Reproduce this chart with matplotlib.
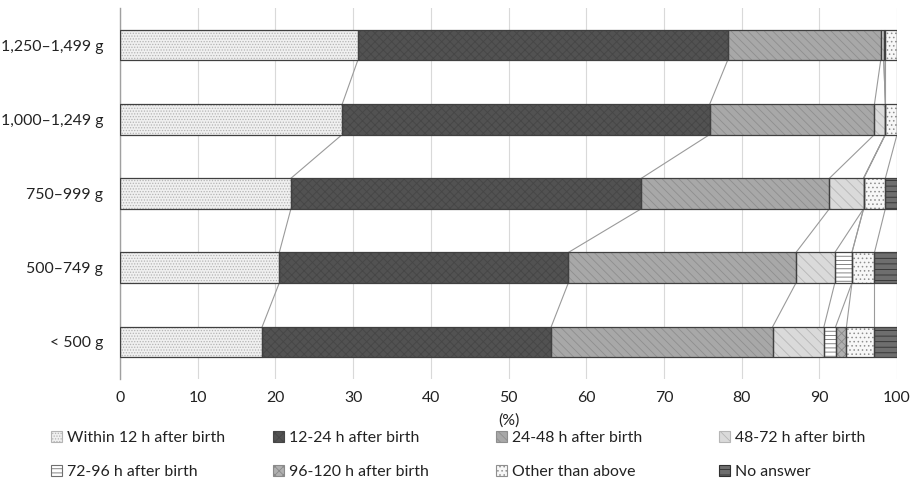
#!/usr/bin/env python3
"""
Timing of first feeding by birth weight group - stacked horizontal bars.
"""

import matplotlib
matplotlib.use("Agg")
import matplotlib.pyplot as plt
import numpy as np

# Data (percent), bottom bar first
groups = ["< 500 g", "500\u2013749 g", "750\u2013999 g", "1,000\u20131,249 g", "1,250\u20131,499 g"]
series_names = [
    "Within 12 h after birth",
    "12-24 h after birth",
    "24-48 h after birth",
    "48-72 h after birth",
    "72-96 h after birth",
    "96-120 h after birth",
    "Other than above",
    "No answer",
]
within_12h = [18.3, 20.5, 22.0, 28.6, 30.6]
h12_24 = [37.2, 37.2, 45.1, 47.3, 47.6]
h24_48 = [28.5, 29.3, 24.2, 21.2, 19.7]
h48_72 = [6.6, 5.0, 4.4, 1.4, 0.4]
h72_96 = [1.5, 2.2, 0.0, 0.0, 0.0]
h96_120 = [1.4, 0.0, 0.0, 0.0, 0.2]
other = [3.6, 2.9, 2.8, 1.5, 1.5]
no_answer = [2.9, 2.9, 1.5, 0.0, 0.0]
x_ticks = [0, 10, 20, 30, 40, 50, 60, 70, 80, 90, 100]

# (facecolor, hatch, hatch color)
styles = [
    ("#f0f0f0", "......", "#b4b4b4"),
    ("#525252", "xxxx", "#464646"),
    ("#a8a8a8", "\\\\\\\\", "#8e8e8e"),
    ("#dadada", "\\\\\\", "#b6b6b6"),
    ("#ffffff", "----", "#707070"),
    ("#b0b0b0", "xxxx", "#8a8a8a"),
    ("#f7f7f7", "....", "#8f8f8f"),
    ("#6e6e6e", "---", "#303030"),
]

FS = 11.4
TXT = "#222222"
plt.rcParams['font.family'] = ['Lato', 'DejaVu Sans']
plt.rcParams['hatch.linewidth'] = 0.6

fig = plt.figure(figsize=(9.14, 4.83), dpi=100)
ax = fig.add_axes([120 / 914, 1 - 379 / 483, (897 - 120) / 914, (379 - 8) / 483])

data = np.array([within_12h, h12_24, h24_48, h48_72, h72_96, h96_120, other, no_answer])
y = np.arange(len(groups))
bar_h = 0.41

handles = []
left = np.zeros(len(groups))
for vals, (fc, hatch, hc), name in zip(data, styles, series_names):
    ax.barh(y, vals, left=left, height=bar_h, color=fc, hatch=hatch,
            edgecolor=hc, linewidth=0, zorder=2)
    ax.barh(y, vals, left=left, height=bar_h, fill=False,
            edgecolor="#404040", linewidth=0.9, zorder=3)
    left = left + vals
    h = plt.Rectangle((0, 0), 1, 1, facecolor=fc, hatch=hatch, edgecolor=hc, linewidth=0.8)
    handles.append(h)

# series lines between adjacent bars
cum = np.cumsum(data, axis=0)
for k in range(cum.shape[0]):
    for i in range(len(groups) - 1):
        ax.plot([cum[k, i], cum[k, i + 1]], [y[i] + bar_h / 2, y[i + 1] - bar_h / 2],
                color="#9a9a9a", linewidth=0.8, zorder=1)

ax.set_xlim(0, 100)
ax.set_ylim(-0.5, len(groups) - 0.5)
ax.set_xticks(x_ticks)
ax.set_yticks(y)
ax.set_yticklabels(groups)
ax.tick_params(axis='both', length=0, labelsize=FS, colors=TXT)
ax.tick_params(axis='y', pad=12)
ax.tick_params(axis='x', pad=9)
ax.set_xlabel("(%)", fontsize=FS, color=TXT, labelpad=6)

ax.grid(axis='x', color="#d9d9d9", linewidth=0.8, zorder=0)
ax.set_axisbelow(True)
for s in ["top", "right", "bottom"]:
    ax.spines[s].set_visible(False)
ax.spines["left"].set_color("#a0a0a0")
ax.spines["left"].set_linewidth(1.0)

# legend: 4 columns, 2 rows, each column placed separately
col_x = [51, 273, 496, 719]
for c in range(4):
    idx = [c, c + 4]
    leg = fig.legend([handles[i] for i in idx], [series_names[i] for i in idx],
                     loc="upper left", bbox_to_anchor=(col_x[c] / 914, 1 - 431 / 483),
                     frameon=False, fontsize=FS, handlelength=0.7, handleheight=0.7,
                     handletextpad=0.3, labelspacing=1.25, borderpad=0, borderaxespad=0)
    for t in leg.get_texts():
        t.set_color(TXT)

fig.savefig("out.png", dpi=100)
